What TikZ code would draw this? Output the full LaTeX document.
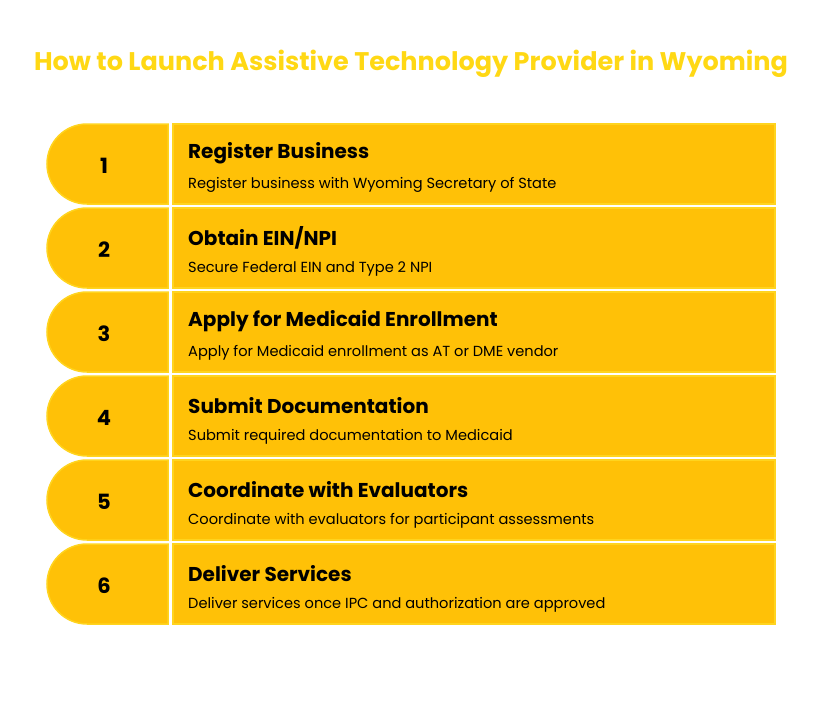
\documentclass[tikz,border=0pt]{standalone}
\usepackage{fontspec}
\setmainfont{Poppins}
\newfontfamily\titlefont{Poppins}
\definecolor{boxfill}{HTML}{FFC107}
\definecolor{boxline}{HTML}{FFD41F}
\definecolor{titlecol}{HTML}{FFD814}
\begin{document}
\begin{tikzpicture}[x=1pt,y=-1pt,
  stepnum/.style={font=\fontsize{21}{21}\selectfont\bfseries, text=black},
  stephead/.style={anchor=west, font=\fontsize{20}{20}\selectfont\bfseries, text=black, inner sep=0},
  stepdesc/.style={anchor=west, font=\fontsize{14.6}{14.6}\selectfont, text=black, inner sep=0},
  boxstyle/.style={fill=boxfill, draw=boxline, line width=1.5pt}]
\useasboundingbox (0,0) rectangle (822,725);
\node[text=titlecol, font=\titlefont\fontsize{25.5}{25.5}\selectfont\bfseries] (title) at (411,64) {How to Launch Assistive Technology Provider in Wyoming};
\foreach \i/\h/\d in {
  1/Register Business/Register business with Wyoming Secretary of State,
  2/Obtain EIN\slash NPI/Secure Federal EIN and Type 2 NPI,
  3/Apply for Medicaid Enrollment/Apply for Medicaid enrollment as AT or DME vendor,
  4/Submit Documentation/Submit required documentation to Medicaid,
  5/Coordinate with Evaluators/Coordinate with evaluators for participant assessments,
  6/Deliver Services/Deliver services once IPC and authorization are approved}{
  \pgfmathsetmacro{\rt}{124+84*(\i-1)}
  \pgfmathsetmacro{\rb}{\rt+80}
  \pgfmathsetmacro{\rm}{\rt+41.5}
  \draw[boxstyle] (168,\rt) -- (87,\rt) arc[start angle=270, end angle=90, radius=40] -- (168,\rb) -- cycle;
  \node[stepnum] (n\i) at (104,\rm) {\i};
  \draw[boxstyle] (173,\rt) rectangle (775,\rb);
  \node[stephead] (h\i) at (188,\rt+29.5) {\h};
  \node[stepdesc] (d\i) at (188,\rt+60.5) {\d};
}
\end{tikzpicture}
\end{document}
